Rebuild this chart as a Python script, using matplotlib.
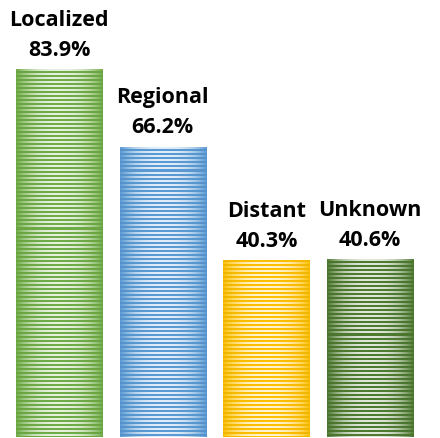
import numpy as np
import matplotlib
matplotlib.use("Agg")
import matplotlib.pyplot as plt
from matplotlib.colors import to_rgb

# Survival by stage at diagnosis
categories = ["Localized", "Regional", "Distant", "Unknown"]
values = [83.9, 66.2, 40.3, 40.6]
colors = ["#70AD47", "#5B9BD5", "#FFC000", "#4F7B31"]

W, H, DPI = 440, 438, 100
fig = plt.figure(figsize=(W / DPI, H / DPI), dpi=DPI)
ax = fig.add_axes([0, 1 / H, 1, 1 - 1 / H])
YMAX = 99.6
ax.set_xlim(-0.569, 3.675)
ax.set_ylim(0, YMAX)
ax.axis("off")

bar_w = 0.83
px_per_unit = (H - 1) / YMAX


def striped_fill(color, rows):
    """Horizontal stripes two pixels thick: solid colour rows alternating with
    rows that fade from the colour at the edges to a pale tint in the middle."""
    cols = 86
    base = np.array(to_rgb(color))
    u = np.linspace(0, 1, cols)
    t = 0.82 * (1 - np.abs(2 * u - 1) ** 2.5)
    light = base[None, :] * (1 - t[:, None]) + t[:, None]
    shade = 1 - 0.06 * np.abs(2 * u - 1) ** 2
    solid = base[None, :] * shade[:, None]
    img = np.empty((rows, cols, 3))
    for r in range(rows):
        img[r] = solid if (r // 2) % 2 == 0 else light
    return img


bars = ax.bar(range(len(values)), values, width=bar_w, color="none", edgecolor="none")
for i, (b, v, c, name) in enumerate(zip(bars, values, colors, categories)):
    x0 = b.get_x()
    rows = int(np.ceil(v * px_per_unit))
    top = rows / px_per_unit
    im = ax.imshow(striped_fill(c, rows), extent=(x0, x0 + bar_w, 0, top),
                   aspect="auto", interpolation="nearest", zorder=2)
    im.set_clip_path(b)
    ax.annotate(f"{name}\n{v:.1f}%", xy=(i, v), xytext=(0, 6),
                textcoords="offset points", ha="center", va="bottom",
                fontsize=15.5, fontweight="bold", family="Open Sans",
                linespacing=1.55, color="#000000")

ax.set_xlim(-0.569, 3.675)
ax.set_ylim(0, YMAX)
fig.savefig("out.png", dpi=DPI)
